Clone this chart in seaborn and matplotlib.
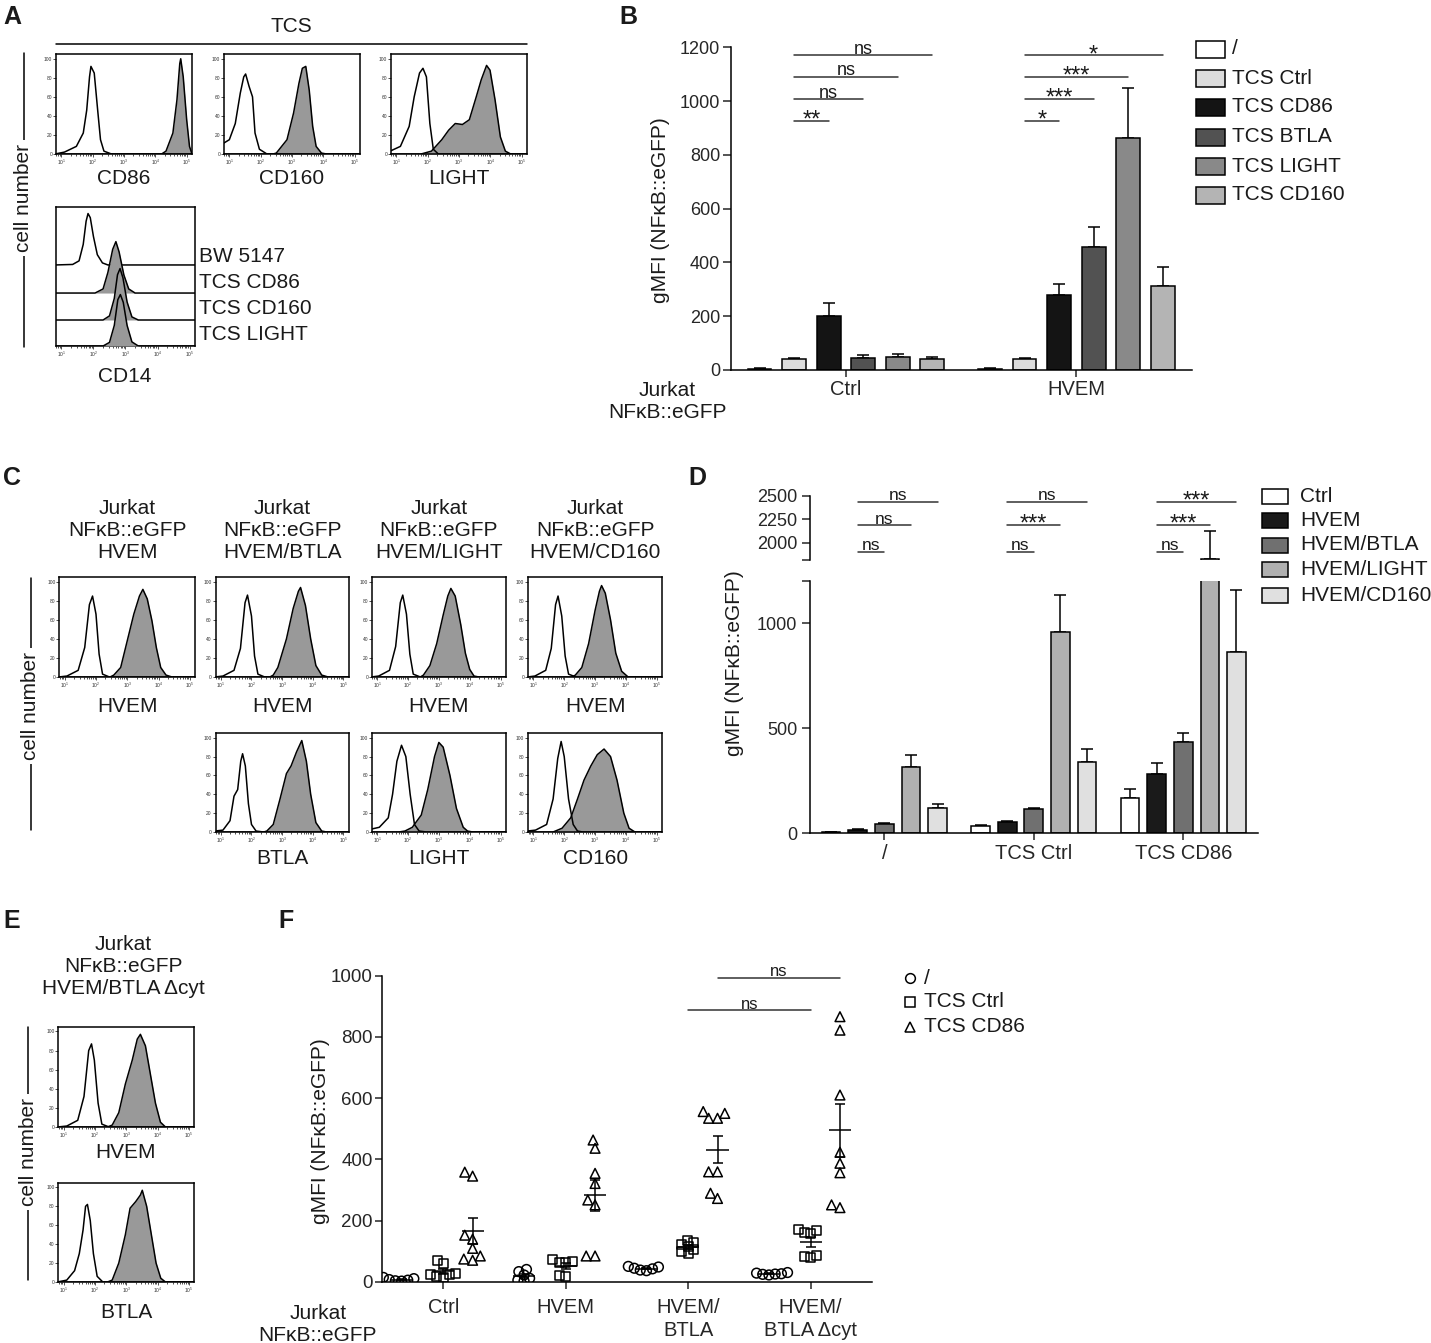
import numpy as np
import pandas as pd
import matplotlib
matplotlib.use("Agg")
import matplotlib.pyplot as plt
import seaborn as sns
from matplotlib.lines import Line2D
from matplotlib.patches import Rectangle

# =============================================================================
# DATA
# =============================================================================
# flow histograms: (log10 fluorescence, % of max)
A_CD86_NEG = [(0.8, 0), (1.1, 2), (1.48, 8), (1.7, 22), (1.81, 46), (1.9, 81), (1.945, 92), (2.05, 85), (2.16, 46), (2.25, 15), (2.36, 3), (2.6, 0), (5.2, 0)]
A_CD86_POS = [(0.8, 0), (4.2, 0), (4.34, 3), (4.56, 22), (4.69, 57), (4.78, 95), (4.81, 100), (4.89, 81), (5.0, 36), (5.09, 8), (5.16, 1), (5.2, 0)]
A_CD160_NEG = [(0.8, 11), (1.0, 15), (1.19, 32), (1.35, 64), (1.46, 81), (1.52, 84), (1.63, 71), (1.74, 60), (1.82, 22), (1.96, 5), (2.2, 0), (5.2, 0)]
A_CD160_POS = [(0.8, 0), (2.4, 0), (2.5, 1), (2.84, 15), (3.05, 43), (3.22, 74), (3.33, 90), (3.44, 92), (3.55, 67), (3.66, 29), (3.77, 8), (3.94, 1), (4.1, 0), (5.2, 0)]
A_LIGHT_NEG = [(0.8, 3), (1.13, 8), (1.41, 29), (1.57, 60), (1.74, 85), (1.85, 90), (1.96, 81), (2.07, 32), (2.18, 5), (2.34, 0), (5.2, 0)]
A_LIGHT_POS = [(0.8, 0), (1.79, 0), (2.12, 3), (2.45, 15), (2.67, 25), (2.88, 32), (3.11, 31), (3.33, 36), (3.55, 60), (3.71, 78), (3.88, 93), (3.99, 88), (4.15, 57), (4.32, 18), (4.48, 3), (4.65, 0), (5.2, 0)]

A_CD14_NAMES = ["BW 5147", "TCS CD86", "TCS CD160", "TCS LIGHT"]
A_CD14_BW = [(0.8, 0), (1.35, 1), (1.55, 8), (1.68, 40), (1.77, 85), (1.83, 100), (1.9, 92), (2.0, 55), (2.12, 20), (2.28, 4), (2.45, 0), (5.2, 0)]
A_CD14_CD86 = [(0.8, 0), (2.05, 0), (2.3, 8), (2.45, 40), (2.6, 85), (2.7, 100), (2.8, 80), (2.95, 35), (3.1, 8), (3.3, 0), (5.2, 0)]
A_CD14_CD160 = [(0.8, 0), (2.3, 0), (2.5, 8), (2.65, 42), (2.75, 88), (2.83, 100), (2.92, 82), (3.05, 35), (3.2, 6), (3.4, 0), (5.2, 0)]
A_CD14_LIGHT = [(0.8, 0), (2.3, 0), (2.5, 7), (2.65, 40), (2.76, 90), (2.84, 100), (2.93, 85), (3.05, 40), (3.2, 8), (3.4, 0), (5.2, 0)]

C_TITLES = ["Jurkat\nNFκB::eGFP\nHVEM", "Jurkat\nNFκB::eGFP\nHVEM/BTLA",
            "Jurkat\nNFκB::eGFP\nHVEM/LIGHT", "Jurkat\nNFκB::eGFP\nHVEM/CD160"]
C_ROW2_LABELS = ["BTLA", "LIGHT", "CD160"]
C_HVEM1_NEG = [(0.8, 0), (1.07, 1), (1.43, 7), (1.64, 31), (1.79, 76), (1.89, 85), (2.0, 66), (2.1, 24), (2.21, 3), (2.43, 0), (5.2, 0)]
C_HVEM1_POS = [(0.8, 0), (2.45, 0), (2.57, 2), (2.79, 10), (3.0, 38), (3.21, 66), (3.39, 85), (3.5, 92), (3.64, 82), (3.79, 59), (3.93, 31), (4.07, 10), (4.24, 2), (4.43, 0), (5.2, 0)]
C_HVEM2_NEG = [(0.8, 0), (1.07, 1), (1.43, 7), (1.64, 30), (1.79, 78), (1.87, 86), (2.0, 64), (2.1, 22), (2.21, 3), (2.43, 0), (5.2, 0)]
C_HVEM2_POS = [(0.8, 0), (2.6, 0), (2.71, 2), (2.86, 10), (3.14, 40), (3.36, 72), (3.53, 90), (3.6, 94), (3.76, 75), (3.93, 40), (4.1, 12), (4.29, 2), (4.5, 0), (5.2, 0)]
C_HVEM3_NEG = [(0.8, 0), (1.05, 1), (1.4, 7), (1.6, 32), (1.75, 78), (1.83, 86), (1.95, 66), (2.06, 24), (2.17, 3), (2.4, 0), (5.2, 0)]
C_HVEM3_POS = [(0.8, 0), (2.4, 0), (2.5, 2), (2.71, 12), (2.93, 35), (3.14, 65), (3.29, 85), (3.39, 93), (3.53, 85), (3.71, 55), (3.86, 25), (4.0, 8), (4.14, 1), (4.3, 0), (5.2, 0)]
C_HVEM4_NEG = [(0.8, 0), (1.05, 1), (1.4, 7), (1.58, 30), (1.72, 76), (1.8, 85), (1.92, 64), (2.03, 22), (2.14, 3), (2.38, 0), (5.2, 0)]
C_HVEM4_POS = [(0.8, 0), (2.25, 0), (2.36, 2), (2.57, 10), (2.79, 35), (3.0, 70), (3.14, 90), (3.21, 96), (3.33, 88), (3.5, 60), (3.67, 25), (3.86, 6), (4.07, 0), (5.2, 0)]
C_BTLA_NEG = [(0.8, 1), (1.07, 2), (1.3, 12), (1.43, 38), (1.55, 45), (1.65, 75), (1.71, 83), (1.8, 70), (1.9, 30), (2.0, 8), (2.15, 1), (2.4, 0), (5.2, 0)]
C_BTLA_POS = [(0.8, 0), (2.4, 0), (2.5, 1), (2.71, 8), (2.93, 35), (3.14, 62), (3.29, 70), (3.47, 85), (3.64, 97), (3.79, 75), (3.93, 40), (4.1, 10), (4.29, 1), (4.45, 0), (5.2, 0)]
C_LIGHT_NEG = [(0.8, 3), (1.07, 5), (1.36, 15), (1.5, 40), (1.64, 75), (1.79, 92), (1.93, 80), (2.07, 40), (2.21, 8), (2.36, 1), (2.6, 0), (5.2, 0)]
C_LIGHT_POS = [(0.8, 0), (1.7, 0), (1.9, 1), (2.14, 5), (2.43, 18), (2.64, 45), (2.86, 80), (3.0, 95), (3.14, 90), (3.36, 60), (3.57, 25), (3.79, 5), (3.93, 1), (4.1, 0), (5.2, 0)]
C_CD160_NEG = [(0.8, 1), (1.07, 2), (1.43, 8), (1.64, 35), (1.79, 78), (1.9, 96), (2.0, 80), (2.14, 35), (2.29, 8), (2.43, 1), (2.6, 0), (5.2, 0)]
C_CD160_POS = [(0.8, 0), (1.64, 0), (1.93, 4), (2.21, 15), (2.43, 35), (2.64, 55), (2.86, 70), (3.07, 82), (3.29, 88), (3.5, 80), (3.71, 55), (3.93, 20), (4.1, 4), (4.29, 0), (5.2, 0)]

E_HVEM_NEG = [(0.8, 0), (1.1, 1), (1.45, 7), (1.65, 32), (1.8, 80), (1.89, 87), (1.98, 70), (2.1, 25), (2.22, 3), (2.45, 0), (5.2, 0)]
E_HVEM_POS = [(0.8, 0), (2.4, 0), (2.55, 2), (2.76, 15), (2.97, 45), (3.19, 70), (3.35, 92), (3.45, 97), (3.61, 85), (3.77, 55), (3.93, 25), (4.09, 5), (4.25, 0), (5.2, 0)]
E_BTLA_NEG = [(0.8, 0), (1.1, 2), (1.35, 12), (1.5, 30), (1.62, 55), (1.7, 80), (1.76, 82), (1.85, 65), (1.95, 30), (2.07, 6), (2.25, 0), (5.2, 0)]
E_BTLA_POS = [(0.8, 0), (2.4, 0), (2.55, 2), (2.76, 20), (2.97, 50), (3.12, 78), (3.3, 85), (3.45, 92), (3.51, 97), (3.65, 80), (3.8, 50), (3.95, 20), (4.1, 4), (4.25, 0), (5.2, 0)]

# panel B: bar means and upper SEM
B_GROUPS = ["Ctrl", "HVEM"]
B_TCS = ["/", "TCS Ctrl", "TCS CD86", "TCS BTLA", "TCS LIGHT", "TCS CD160"]
B_MEAN_CTRL = [5, 40, 201, 45, 47, 40]
B_ERR_CTRL = [1, 5, 49, 10, 13, 8]
B_MEAN_HVEM = [5, 40, 278, 459, 862, 314]
B_ERR_HVEM = [1, 5, 41, 73, 186, 69]
B_COLORS = ["#ffffff", "#dcdcdc", "#141414", "#525252", "#898989", "#b4b4b4"]
# (group, from bar, to bar, height, label)
B_SIG = [(0, 1, 2, 927, "**"), (0, 1, 3, 1008, "ns"), (0, 1, 4, 1090, "ns"), (0, 1, 5, 1170, "ns"),
         (1, 1, 2, 927, "*"), (1, 1, 3, 1008, "***"), (1, 1, 4, 1090, "***"), (1, 1, 5, 1170, "*")]

# panel D
D_GROUPS = ["/", "TCS Ctrl", "TCS CD86"]
D_CELLS = ["Ctrl", "HVEM", "HVEM/BTLA", "HVEM/LIGHT", "HVEM/CD160"]
D_MEAN_NONE = [4, 15, 43, 317, 119]
D_ERR_NONE = [1, 5, 4, 56, 21]
D_MEAN_CTRL = [33, 54, 114, 960, 340]
D_ERR_CTRL = [8, 6, 6, 175, 62]
D_MEAN_CD86 = [167, 284, 433, 1825, 865]
D_ERR_CD86 = [43, 49, 43, 299, 294]
D_COLORS = ["#ffffff", "#1a1a1a", "#707070", "#b0b0b0", "#e0e0e0"]
D_SIG = [(0, 1, 2, 1904, "ns"), (0, 1, 3, 2188, "ns"), (0, 1, 4, 2436, "ns"),
         (1, 1, 2, 1904, "ns"), (1, 1, 3, 2188, "***"), (1, 1, 4, 2436, "ns"),
         (2, 1, 2, 1904, "ns"), (2, 1, 3, 2188, "***"), (2, 1, 4, 2436, "***")]

# panel F: single experiments per cell line
F_CELLS = ["Ctrl", "HVEM", "HVEM/\nBTLA", "HVEM/\nBTLA Δcyt"]
F_TCS = ["/", "TCS Ctrl", "TCS CD86"]
F_NONE = [[5, 10, 2, 14, 7, 3], [11, 5, 2, 40, 33, 22], [48, 38, 44, 36, 50, 42], [28, 24, 30, 22, 26, 25]]
F_TCS_CTRL = [[70, 60, 28, 22, 18, 15, 25], [66, 62, 64, 71, 20, 18], [136, 128, 115, 104, 98, 93, 120], [172, 166, 156, 82, 80, 85, 160]]
F_TCS_CD86 = [[152, 139, 109, 84, 70, 74, 345, 358], [463, 436, 354, 321, 267, 251, 84, 84],
              [550, 556, 534, 534, 359, 359, 289, 272], [866, 822, 610, 423, 387, 356, 251, 242]]
F_SIG = [("TCS Ctrl", 2, 3, 888, "ns"), ("TCS CD86", 2, 3, 993, "ns")]

# =============================================================================
# STYLE / LAYOUT HELPERS (pixel coordinates of a 1431x1343 canvas)
# =============================================================================
sns.set_theme(style="ticks")
plt.rcParams["font.family"] = ["Liberation Sans", "DejaVu Sans"]
plt.rcParams["axes.linewidth"] = 1.1
plt.rcParams["axes.edgecolor"] = "black"
plt.rcParams["text.color"] = "#1a1a1a"

W, H = 1431, 1343
fig = plt.figure(figsize=(W / 100, H / 100), dpi=100)
HIST_FILL = "#999999"
LW = 1.1


def add_ax(l, t, r, b):
    return fig.add_axes([l / W, 1 - b / H, (r - l) / W, (b - t) / H])


def ftext(x, y, s, **kw):
    kw.setdefault("ha", "center")
    kw.setdefault("va", "center")
    return fig.text(x / W, 1 - y / H, s, **kw)


def fline(x0, y0, x1, y1, color="black"):
    fig.add_artist(Line2D([x0 / W, x1 / W], [1 - y0 / H, 1 - y1 / H], lw=LW, color=color))


def fbox(xc, yc, w, h, fc):
    fig.add_artist(Rectangle(((xc - w / 2) / W, 1 - (yc + h / 2) / H), w / W, h / H,
                             facecolor=fc, edgecolor="black", lw=LW, transform=fig.transFigure))


def cell_number(x, y0, y1, yc):
    fline(x, y0, x, y1)
    ftext(x, yc, "cell number", rotation=90, fontsize=15,
          bbox=dict(fc="white", ec="none", pad=3))


def xy(curve):
    return 10 ** np.array([p[0] for p in curve]), np.array([p[1] for p in curve], dtype=float)


def style_hist(ax, yticks=True):
    ax.set_xscale("log")
    ax.set_xlim(10 ** 0.83, 10 ** 5.17)
    ax.set_xticks([1e1, 1e2, 1e3, 1e4, 1e5])
    if yticks:
        ax.set_ylim(0, 105)
        ax.set_yticks([0, 20, 40, 60, 80, 100])
    else:
        ax.set_yticks([])
    ax.tick_params(which="both", labelsize=3.5, width=0.6, pad=0.8, colors="#333333")
    ax.tick_params(which="major", length=2)
    ax.tick_params(which="minor", length=1.2)
    for s in ax.spines.values():
        s.set_linewidth(LW)


def histogram(box, neg, pos):
    ax = add_ax(*box)
    px, py = xy(pos)
    nx, ny = xy(neg)
    ax.fill_between(px, py, color=HIST_FILL, lw=0)
    ax.plot(px, py, color="black", lw=LW)
    ax.plot(nx, ny, color="black", lw=LW)
    style_hist(ax)
    return ax


def sig(ax, x0, x1, y, label, ns_size=13):
    ax.plot([x0, x1], [y, y], color="#333333", lw=LW, clip_on=False)
    star = "*" in label
    ax.annotate(label, xy=((x0 + x1) / 2, y), xytext=(0, -4.3 if star else 1),
                textcoords="offset points", ha="center", va="baseline",
                fontsize=17 if star else ns_size, annotation_clip=False)


# =============================================================================
# PANEL A
# =============================================================================
ftext(12, 17, "A", fontsize=18, fontweight="bold")
ftext(291, 27, "TCS", fontsize=15)
fline(56, 44, 527, 44)
a_boxes = [(56, 54, 192, 154), (224, 54, 360, 154), (391, 54, 527, 154)]
for box, neg, pos, lab in zip(a_boxes, [A_CD86_NEG, A_CD160_NEG, A_LIGHT_NEG],
                              [A_CD86_POS, A_CD160_POS, A_LIGHT_POS], ["CD86", "CD160", "LIGHT"]):
    histogram(box, neg, pos)
    ftext((box[0] + box[2]) / 2, 178, lab, fontsize=15)
cell_number(24, 53, 347, 198)

axA14 = add_ax(56, 207, 195, 346)
cd14_offsets = [58.3, 38.1, 18.7, 0]
for k, (curve, off) in enumerate(zip([A_CD14_BW, A_CD14_CD86, A_CD14_CD160, A_CD14_LIGHT], cd14_offsets)):
    cx, cy = xy(curve)
    yy = off + 0.37 * cy
    if k > 0:
        axA14.fill_between(cx, off, yy, color=HIST_FILL, lw=0, zorder=2 + k)
    axA14.plot(cx, yy, color="black", lw=LW, zorder=2 + k)
axA14.set_ylim(0, 100)
style_hist(axA14, yticks=False)
for name, y in zip(A_CD14_NAMES, [256, 283, 308, 335]):
    ftext(199, y, name, ha="left", fontsize=15)
ftext(125, 376, "CD14", fontsize=15)

# =============================================================================
# PANEL B
# =============================================================================
ftext(628, 17, "B", fontsize=18, fontweight="bold")
b_df = pd.DataFrame({"cells": np.repeat(B_GROUPS, len(B_TCS)),
                     "tcs": B_TCS * len(B_GROUPS),
                     "gmfi": B_MEAN_CTRL + B_MEAN_HVEM,
                     "err": B_ERR_CTRL + B_ERR_HVEM})
axB = add_ax(730.7, 47.3, 1191.6, 370)
sns.barplot(data=b_df, x="cells", y="gmfi", hue="tcs", order=B_GROUPS, hue_order=B_TCS,
            palette=B_COLORS, saturation=1, width=0.9, gap=0.31, edgecolor="black",
            linewidth=LW, errorbar=None, legend=False, ax=axB)
bx = [B_GROUPS.index(g) + (B_TCS.index(t) - 2.5) * 0.15 for g, t in zip(b_df.cells, b_df.tcs)]
axB.errorbar(bx, b_df.gmfi, yerr=[np.zeros(len(b_df)), b_df.err], fmt="none", ecolor="black",
             elinewidth=LW, capsize=4.2, capthick=LW, zorder=0.5)
for g, i0, i1, y, lab in B_SIG:
    sig(axB, g + (i0 - 2.5) * 0.15, g + (i1 - 2.5) * 0.15, y, lab)
axB.set(xlabel="", ylabel="", ylim=(0, 1200), xlim=(-0.5, 1.5))
axB.set_yticks(range(0, 1201, 200))
axB.tick_params(axis="y", labelsize=13, length=5.5, width=LW, pad=2)
axB.tick_params(axis="x", labelsize=14.5, length=4.8, width=LW, pad=2.4)
sns.despine(ax=axB)
ftext(660, 210, "gMFI (NFκB::eGFP)", rotation=90, fontsize=15)
ftext(667, 402, "Jurkat\nNFκB::eGFP", fontsize=15, linespacing=1.2)
for t, c, y in zip(B_TCS, B_COLORS, [49, 78, 107, 137, 166, 195]):
    fbox(1210, y, 29, 17, c)
    ftext(1232, y, t, ha="left", fontsize=15)

# =============================================================================
# PANEL C
# =============================================================================
ftext(12, 478, "C", fontsize=18, fontweight="bold")
c_cols = [(59.4, 195.1), (215.6, 348.7), (371.9, 505.8), (528.1, 662.1)]
c_row1 = [(C_HVEM1_NEG, C_HVEM1_POS), (C_HVEM2_NEG, C_HVEM2_POS),
          (C_HVEM3_NEG, C_HVEM3_POS), (C_HVEM4_NEG, C_HVEM4_POS)]
c_row2 = [(C_BTLA_NEG, C_BTLA_POS), (C_LIGHT_NEG, C_LIGHT_POS), (C_CD160_NEG, C_CD160_POS)]
for (l, r), title, (neg, pos) in zip(c_cols, C_TITLES, c_row1):
    ftext((l + r) / 2, 530.5, title, fontsize=15, linespacing=1.22)
    histogram((l, 577, r, 677), neg, pos)
    ftext((l + r) / 2, 706, "HVEM", fontsize=15)
for (l, r), lab, (neg, pos) in zip(c_cols[1:], C_ROW2_LABELS, c_row2):
    histogram((l, 733, r, 832), neg, pos)
    ftext((l + r) / 2, 858, lab, fontsize=15)
cell_number(31, 578, 830, 706)

# =============================================================================
# PANEL D (broken y axis)
# =============================================================================
ftext(697, 478, "D", fontsize=18, fontweight="bold")
d_df = pd.DataFrame({"tcs": np.repeat(D_GROUPS, len(D_CELLS)),
                     "cells": D_CELLS * len(D_GROUPS),
                     "gmfi": D_MEAN_NONE + D_MEAN_CTRL + D_MEAN_CD86,
                     "err": D_ERR_NONE + D_ERR_CTRL + D_ERR_CD86})
axDl = add_ax(809.6, 581.3, 1258, 833.3)
axDu = add_ax(809.6, 495.7, 1258, 560)
dx = [D_GROUPS.index(g) + (D_CELLS.index(c) - 2) * 0.178 for g, c in zip(d_df.tcs, d_df.cells)]
for ax in (axDl, axDu):
    sns.barplot(data=d_df, x="tcs", y="gmfi", hue="cells", order=D_GROUPS, hue_order=D_CELLS,
                palette=D_COLORS, saturation=1, width=0.89, gap=0.3, edgecolor="black",
                linewidth=LW, errorbar=None, legend=False, ax=ax)
    ax.errorbar(dx, d_df.gmfi, yerr=[np.zeros(len(d_df)), d_df.err], fmt="none", ecolor="black",
                elinewidth=LW, capsize=4.5, capthick=LW, zorder=0.5)
    ax.set(xlabel="", ylabel="", xlim=(-0.5, 2.5))
    ax.tick_params(axis="y", labelsize=13, length=5.5, width=LW, pad=3.5)
axDl.set_ylim(0, 1200)
axDl.set_yticks([0, 500, 1000, 1200])
axDl.set_yticklabels(["0", "500", "1000", ""])
axDl.tick_params(axis="x", labelsize=14.5, length=5, width=LW, pad=2.4)
sns.despine(ax=axDl)
axDu.set_ylim(1815, 2500)
axDu.set_yticks([1815, 2000, 2250, 2500])
axDu.set_yticklabels(["", "2000", "2250", "2500"])
axDu.tick_params(axis="x", bottom=False, labelbottom=False)
sns.despine(ax=axDu, bottom=True)
for g, i0, i1, y, lab in D_SIG:
    sig(axDu, g + (i0 - 2) * 0.178, g + (i1 - 2) * 0.178, y, lab, ns_size=12.5)
ftext(735, 663, "gMFI (NFκB::eGFP)", rotation=90, fontsize=15)
for c, col, y in zip(D_CELLS, D_COLORS, [496.7, 520, 545, 570, 596]):
    fbox(1275, y, 26, 15, col)
    ftext(1300, y, c, ha="left", fontsize=15)

# =============================================================================
# PANEL E
# =============================================================================
ftext(12, 921, "E", fontsize=18, fontweight="bold")
ftext(123, 966.7, "Jurkat\nNFκB::eGFP\nHVEM/BTLA Δcyt", fontsize=15, linespacing=1.22)
histogram((58.3, 1026.7, 194.3, 1127), E_HVEM_NEG, E_HVEM_POS)
ftext(126, 1153, "HVEM", fontsize=15)
histogram((58.3, 1182.7, 194.3, 1282), E_BTLA_NEG, E_BTLA_POS)
ftext(126, 1313, "BTLA", fontsize=15)
cell_number(28, 1027, 1280, 1152)

# =============================================================================
# PANEL F
# =============================================================================
ftext(286, 921, "F", fontsize=18, fontweight="bold")
F_OFFSET = {"/": -0.34, "TCS Ctrl": 0.0, "TCS CD86": 0.24}
F_MARKERS = {"/": "o", "TCS Ctrl": "s", "TCS CD86": "^"}
F_SIZES = {"/": 7, "TCS Ctrl": 6.5, "TCS CD86": 7}
# smaller footprint for the swarm layout so the markers overlap like the original
F_SWARM_SIZES = {"/": 3.2, "TCS Ctrl": 3.4, "TCS CD86": 5}
rows = []
for t, series in zip(F_TCS, [F_NONE, F_TCS_CTRL, F_TCS_CD86]):
    for i, vals in enumerate(series):
        for v in vals:
            rows.append((i, t, v))
f_df = pd.DataFrame(rows, columns=["cell", "tcs", "gmfi"])
f_df["pos"] = f_df["cell"] + f_df["tcs"].map(F_OFFSET)

axF = add_ax(382, 975.7, 871.8, 1281.7)
swarm_colls = []
for t in F_TCS:
    sub = f_df[f_df.tcs == t]
    n0 = len(axF.collections)
    sns.swarmplot(x=sub["pos"], y=sub["gmfi"], native_scale=True, orient="x",
                  marker=F_MARKERS[t], size=F_SWARM_SIZES[t], color="black", linewidth=LW, ax=axF)
    for coll in axF.collections[n0:]:
        coll.set_facecolor("none")
        coll.set_edgecolor("black")
        swarm_colls.append((coll, F_SIZES[t]))
    stats = sub.groupby("pos")["gmfi"].agg(["mean", "sem"])
    axF.hlines(stats["mean"], stats.index - 0.09, stats.index + 0.09, color="black", lw=LW, zorder=4)
    axF.errorbar(stats.index, stats["mean"], yerr=stats["sem"], fmt="none", ecolor="black",
                 elinewidth=LW, capsize=3.8, capthick=LW, zorder=4)
for t, c0, c1, y, lab in F_SIG:
    sig(axF, c0 + F_OFFSET[t], c1 + F_OFFSET[t], y, lab, ns_size=12)
axF.set(xlabel="", ylabel="", xlim=(-0.5, 3.5), ylim=(0, 1000))
axF.set_xticks(range(len(F_CELLS)))
axF.set_xticklabels(F_CELLS, linespacing=1.24)
axF.set_yticks(range(0, 1001, 200))
axF.tick_params(axis="y", labelsize=13.5, length=5, width=LW, pad=1.5)
axF.tick_params(axis="x", labelsize=14.5, length=5, width=LW, pad=7)
sns.despine(ax=axF)
ftext(321, 1131, "gMFI (NFκB::eGFP)", rotation=90, fontsize=15)
ftext(318, 1324.5, "Jurkat\nNFκB::eGFP", fontsize=15, linespacing=1.2)
for t, y in zip(F_TCS, [978, 1001.7, 1026.7]):
    fig.add_artist(Line2D([910 / W], [1 - y / H], marker=F_MARKERS[t], ms=7, mfc="none",
                          mec="black", mew=LW, ls="none"))
    ftext(924, y, t, ha="left", fontsize=15)

# lay out the swarms once, then freeze positions and enlarge the markers
fig.canvas.draw()
for coll, size in swarm_colls:
    if "draw" in coll.__dict__:
        del coll.draw
    coll.set_sizes([size ** 2])

fig.savefig("out.png", dpi=100)
